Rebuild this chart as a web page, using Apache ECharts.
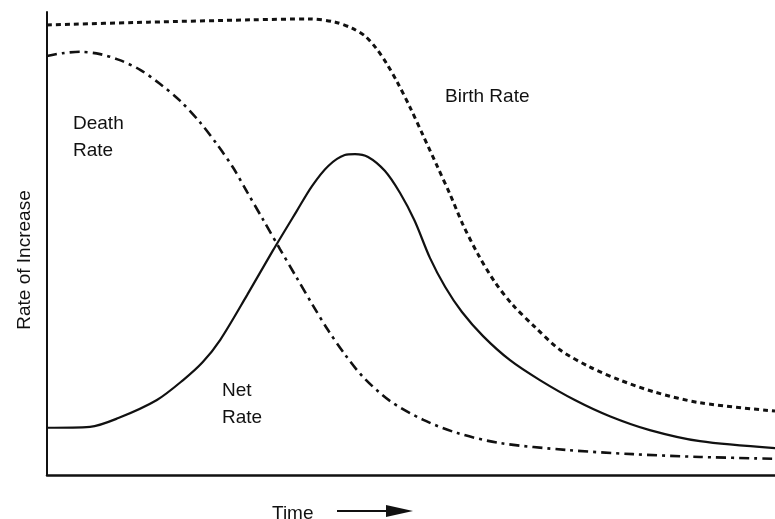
<!DOCTYPE html>
<html>
<head>
<meta charset="utf-8">
<title>Rate of Increase</title>
<script src="https://cdn.jsdelivr.net/npm/echarts@6/dist/echarts.min.js"></script>
<style>
    html, body { margin: 0; padding: 0; background: #fff; }
    #chart { width: 775px; height: 519px; }
</style>
</head>
<body>
<div id="chart"></div>
<script>
// data: [time, rate], both on a 0-100 scale
let birthRate = [
    [0, 97.2], [13.9, 97.8], [27.9, 98.3], [36.1, 98.5], [39.6, 97.8], [41.9, 96.5],
    [43.7, 94.8], [45.2, 92.2], [46.6, 89.0], [48.1, 84.9], [49.9, 79.3], [51.7, 73.2],
    [53.6, 66.7], [55.4, 60.5], [57.1, 54.2], [59.2, 47.7], [61.5, 41.7], [64.0, 36.7],
    [67.0, 32.0], [70.5, 27.0], [74.6, 23.3], [78.7, 20.5], [83.5, 17.9], [89.7, 15.6],
    [100, 13.8]
];
let deathRate = [
    [0, 90.5], [2.1, 91.1], [4.5, 91.4], [7.3, 90.9], [10.0, 89.6], [12.8, 87.5],
    [15.5, 84.5], [18.3, 80.8], [21.0, 76.2], [23.5, 71.1], [25.6, 66.3], [27.5, 61.1],
    [29.7, 55.1], [32.0, 48.8], [34.3, 42.6], [36.5, 36.7], [38.6, 31.3], [40.9, 26.1],
    [43.4, 21.2], [47.1, 16.0], [51.7, 11.9], [56.3, 9.1], [62.2, 6.9], [71.4, 5.4],
    [80.5, 4.5], [89.7, 3.9], [100, 3.5]
];
let netRate = [
    [0, 10.2], [5.9, 10.4], [9.8, 12.3], [15.1, 16.2], [18.7, 20.5], [21.4, 24.4],
    [23.8, 29.2], [27.5, 38.9], [31.0, 48.4], [34.3, 57.0], [36.4, 62.4], [38.6, 66.7],
    [40.9, 69.1], [42.3, 69.3], [44.1, 68.7], [46.4, 65.7], [48.5, 60.9], [50.5, 54.9],
    [52.6, 46.9], [54.7, 40.6], [57.0, 35.2], [59.9, 30.0], [63.6, 24.8], [67.7, 20.5],
    [72.5, 16.2], [77.3, 12.7], [82.8, 9.7], [89.7, 7.3], [100, 5.8]
];

let font = 'Liberation Sans, Arial, sans-serif';

function textItem(x, y, str, extra) {
    return Object.assign({
        type: 'text',
        x: x, y: y,
        style: { text: str, font: '19px ' + font, fill: '#111', lineHeight: 27 }
    }, extra || {});
}

let chart = echarts.init(document.getElementById('chart'));

let option = {
    animation: false,
    backgroundColor: '#fff',
    grid: { left: 47, right: 0, top: 12, bottom: 44 },
    xAxis: {
        type: 'value', min: 0, max: 100,
        axisLine: { show: true, lineStyle: { color: '#111', width: 2.5 } },
        axisTick: { show: false }, axisLabel: { show: false }, splitLine: { show: false }
    },
    yAxis: {
        type: 'value', min: 0, max: 100,
        axisLine: { show: true, lineStyle: { color: '#111', width: 2 } },
        axisTick: { show: false }, axisLabel: { show: false }, splitLine: { show: false }
    },
    series: [
        {
            name: 'Birth Rate', type: 'line', data: birthRate, smooth: 0.3, symbol: 'none',
            lineStyle: { color: '#111', width: 3, type: [5, 4] }
        },
        {
            name: 'Death Rate', type: 'line', data: deathRate, smooth: 0.3, symbol: 'none',
            lineStyle: { color: '#111', width: 2.6, type: [10, 5, 3, 5] }
        },
        {
            name: 'Net Rate', type: 'line', data: netRate, smooth: 0.3, symbol: 'none',
            lineStyle: { color: '#111', width: 2.2 }
        }
    ],
    graphic: [
        textItem(73, 110, 'Death\nRate'),
        textItem(445, 83, 'Birth Rate'),
        textItem(222, 377, 'Net\nRate'),
        textItem(25, 260, 'Rate of Increase', {
            rotation: Math.PI / 2,
            style: { text: 'Rate of Increase', font: '19px ' + font, fill: '#111',
                     align: 'center', verticalAlign: 'middle' }
        }),
        textItem(272, 500, 'Time'),
        // arrow after "Time"
        { type: 'line', shape: { x1: 337, y1: 511, x2: 390, y2: 511 },
          style: { stroke: '#111', lineWidth: 2 } },
        { type: 'polygon', shape: { points: [[386, 505], [413, 511], [386, 517]] },
          style: { fill: '#111' } }
    ]
};
chart.setOption(option);
</script>
</body>
</html>
